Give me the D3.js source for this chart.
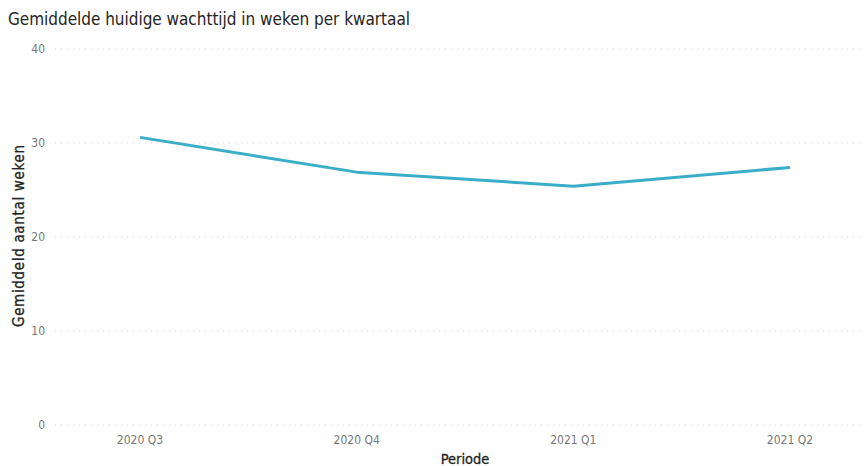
<!DOCTYPE html>
<html>
<head>
<meta charset="utf-8">
<script src="https://cdn.jsdelivr.net/npm/d3@7"></script>
<style>
  body { margin: 0; background: #fff; }
  text { font-family: "DejaVu Sans Condensed", "Liberation Sans", sans-serif; }
</style>
</head>
<body>
<div id="chart"></div>
<script>
const width = 865,
  height = 466;

// quarters and average current waiting time (weeks)
const periods = ['2020 Q3', '2020 Q4', '2021 Q1', '2021 Q2'];
const weeks = [30.6, 26.9, 25.4, 27.4];
const yTicks = [0, 10, 20, 30, 40];

const svg = d3.select('#chart').append('svg')
  .attr('width', width)
  .attr('height', height);

const x = d3.scalePoint()
  .domain(periods)
  .range([140, 790]);

const y = d3.scaleLinear()
  .domain([0, 40])
  .range([425, 49]);

// title
svg.append('text')
  .attr('x', 8)
  .attr('y', 25)
  .attr('font-size', 17)
  .attr('fill', '#252423')
  .attr('textLength', 402)
  .text('Gemiddelde huidige wachttijd in weken per kwartaal');

// gridlines
svg.append('g')
  .selectAll('line')
  .data(yTicks)
  .enter()
  .append('line')
  .attr('x1', 55)
  .attr('x2', 865)
  .attr('y1', d => y(d))
  .attr('y2', d => y(d))
  .attr('stroke', '#d6d6d6')
  .attr('stroke-width', 1)
  .attr('stroke-dasharray', '1,5');

// y tick labels
svg.append('g')
  .selectAll('text')
  .data(yTicks)
  .enter()
  .append('text')
  .attr('x', 45)
  .attr('y', d => y(d))
  .attr('dy', '0.35em')
  .attr('text-anchor', 'end')
  .attr('font-size', 12)
  .attr('fill', '#777')
  .text(d => d);

// x tick labels
svg.append('g')
  .selectAll('text')
  .data(periods)
  .enter()
  .append('text')
  .attr('x', d => x(d))
  .attr('y', 444)
  .attr('text-anchor', 'middle')
  .attr('font-size', 12)
  .attr('fill', '#777')
  .text(d => d);

// axis titles
svg.append('text')
  .attr('x', 465)
  .attr('y', 464)
  .attr('text-anchor', 'middle')
  .attr('font-size', 14.5)
  .attr('fill', '#252423')
  .attr('stroke', '#252423')
  .attr('stroke-width', 0.3)
  .text('Periode');

svg.append('text')
  .attr('transform', 'translate(24,236) rotate(-90)')
  .attr('text-anchor', 'middle')
  .attr('font-size', 15)
  .attr('fill', '#252423')
  .attr('stroke', '#252423')
  .attr('stroke-width', 0.3)
  .attr('textLength', 182)
  .text('Gemiddeld aantal weken');

// line
const line = d3.line()
  .x((d, i) => x(periods[i]))
  .y(d => y(d));

svg.append('path')
  .datum(weeks)
  .attr('d', line)
  .attr('fill', 'none')
  .attr('stroke', '#3aaec8')
  .attr('stroke-width', 3)
  .attr('stroke-linejoin', 'round');
</script>
</body>
</html>
